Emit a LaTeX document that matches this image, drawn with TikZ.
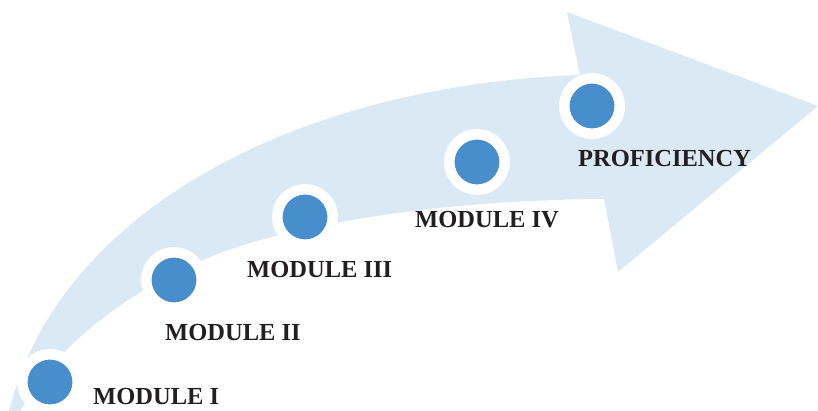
\documentclass[tikz,border=0pt]{standalone}
\usepackage{fontspec}
\setmainfont{Liberation Serif}
\definecolor{arrowfill}{HTML}{DAE9F4}
\definecolor{dotblue}{HTML}{488ECC}
\definecolor{labeltext}{HTML}{231F20}
\begin{document}
\begin{tikzpicture}[x=1pt,y=-1pt,
  dot/.style={circle, fill=dotblue, draw=white, line width=10.5pt, minimum size=55.5pt, inner sep=0pt},
  lab/.style={anchor=base west, inner sep=0pt, font=\fontsize{24.5}{29}\selectfont\bfseries, text=labeltext}]
\useasboundingbox (0,0) rectangle (818,411);
\begin{scope}
\clip (0,0) rectangle (818,411);
\fill[arrowfill] (8,416) .. controls (55,210) and (300,85) .. (580,75)
  -- (567,12) -- (818,106) -- (618,272) -- (604,199)
  .. controls (450,200) and (330,220) .. (250,243)
  .. controls (170,266) and (60,330) .. (18,416)
  -- cycle;
\end{scope}
\node[dot] (m1) at (50,382) {};
\node[dot] (m2) at (174,280) {};
\node[dot] (m3) at (305,217) {};
\node[dot] (m4) at (477,162) {};
\node[dot] (pr) at (592,106) {};
\node[lab] (l1) at (93,404) {MODULE I};
\node[lab] (l2) at (165,340) {MODULE II};
\node[lab] (l3) at (247,278) {MODULE III};
\node[lab] (l4) at (415,228) {MODULE IV};
\node[lab] (l5) at (578,167) {PROFICIENCY};
\end{tikzpicture}
\end{document}
